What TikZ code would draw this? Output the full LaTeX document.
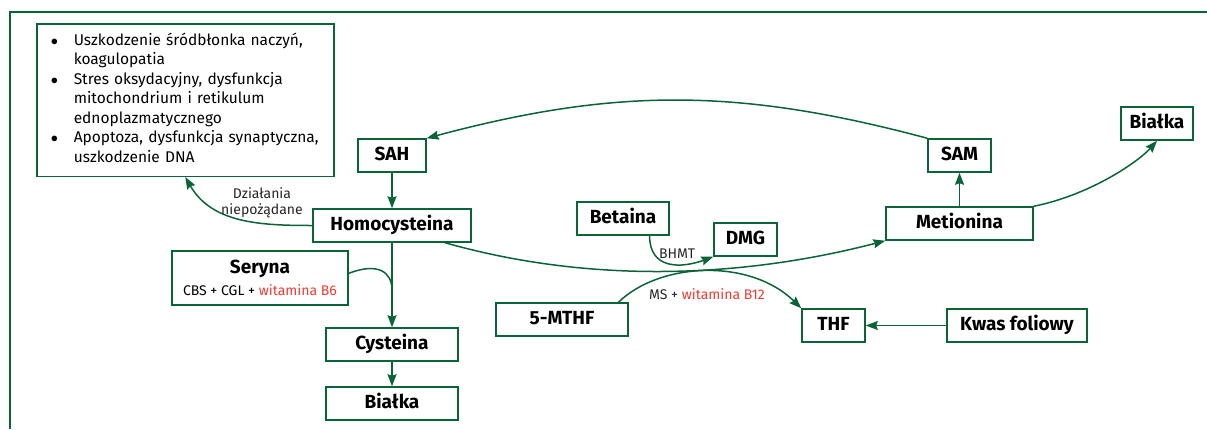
\documentclass[tikz,border=0pt]{standalone}
\usepackage{fontspec}
\setmainfont{Fira Sans}
\usetikzlibrary{arrows.meta}

\definecolor{pgreen}{RGB}{10,100,55}
\definecolor{vitred}{RGB}{235,60,50}

\tikzset{
  box/.style={draw=pgreen, line width=1.5pt, rectangle, inner sep=0pt, minimum height=33pt,
    text height=13.5pt, text depth=4pt, font=\fontsize{19}{22}\selectfont\bfseries},
  arr/.style={draw=pgreen, line width=1.5pt, -{Stealth[length=12pt,width=9pt,inset=1.5pt]}},
  lbl/.style={font=\fontsize{14}{16}\selectfont, text=black!85, align=center, inner sep=0pt}
}

\begin{document}
\begin{tikzpicture}[x=1pt,y=-1pt]
\useasboundingbox (0,0) rectangle (1207,429);
\draw[pgreen, line width=1.5pt] (10,429) -- (10,12) -- (1207,12);

\node[draw=pgreen, line width=1.5pt, anchor=north west, text width=269pt, inner xsep=14pt, inner ysep=8pt,
  font=\fontsize{15.5}{19.5}\selectfont] (skutki) at (36,23) {%
\begin{tabular}{@{}p{23pt}@{}l@{}}
$\bullet$ & Uszkodzenie śródbłonka naczyń,\\
 & koagulopatia\\
$\bullet$ & Stres oksydacyjny, dysfunkcja\\
 & mitochondrium i retikulum\\
 & ednoplazmatycznego\\
$\bullet$ & Apoptoza, dysfunkcja synaptyczna,\\
 & uszkodzenie DNA
\end{tabular}};

\node[box, minimum width=68pt] (sah) at (392,155.5) {SAH};
\node[box, minimum width=63pt] (sam) at (959.5,155.5) {SAM};
\draw[arr] (sam.north west) to[bend right=15] (sah.north east);

\node[box, minimum width=158pt] (homo) at (392,225.5) {Homocysteina};
\draw[arr] (sah) -- (homo);
\draw[arr] (homo.west) to[out=180,in=-60] (skutki.south);
\node[lbl] (dzialania) at (262,203) {Działania\\niepożądane};

\node[box, minimum width=176pt, minimum height=54pt, align=center, text height=, text depth=] (seryna) at (260,278)
  {Seryna\\[0pt]{\fontsize{14}{15}\selectfont\mdseries CBS + CGL + \textcolor{vitred}{witamina B6}}};
\node[box, minimum width=132pt] (cyst) at (392,344.5) {Cysteina};
\node[box, minimum width=132pt] (bialka1) at (392,403.5) {Białka};
\draw[arr] (homo) -- (cyst);
\draw[arr] (cyst) -- (bialka1);
\coordinate (laczenie) at (392,290);
\draw[pgreen, line width=1.5pt] (seryna.3) .. controls (378,262) and (392,272) .. (laczenie);

\node[box, minimum width=147pt] (meti) at (959.5,223.5) {Metionina};
\draw[arr] (meti) -- (sam);
\draw[arr] (homo.-18) .. controls (580,281) and (730,281) .. (meti.south west);
\node[box, minimum width=72pt] (bialka2) at (1157,123.5) {Białka};
\draw[arr] (meti.north east) .. controls (1090,195) and (1138,162) .. (bialka2.south);

\node[box, minimum width=92pt] (betaina) at (623,218.5) {Betaina};
\node[box, minimum width=63pt] (dmg) at (745.5,239.5) {DMG};
\draw[arr] (betaina.-33) to[out=-90,in=200,looseness=1.3] (dmg.south west);
\node[lbl] (bhmt) at (677,254) {BHMT};

\node[box, minimum width=132pt] (mthf) at (562,319.5) {5-MTHF};
\node[box, minimum width=63pt] (thf) at (833.5,325.5) {THF};
\node[box, minimum width=140pt] (kwas) at (1017,325.5) {Kwas foliowy};
\draw[arr] (mthf.17) .. controls (660,262) and (750,258) .. (thf.north west);
\node[lbl] (ms) at (707,294) {MS + \textcolor{vitred}{witamina B12}};
\draw[arr] (kwas) -- (thf);
\end{tikzpicture}
\end{document}
